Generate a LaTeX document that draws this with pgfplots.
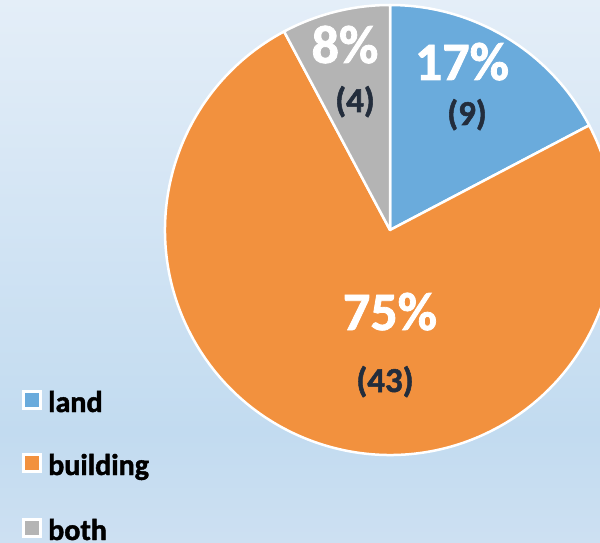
\documentclass[border=0pt]{standalone}
\usepackage{pgfplots}
\pgfplotsset{compat=1.18}
\usepackage{fontspec}
\setmainfont{Carlito}[BoldFeatures={FakeBold=1.5}]

\definecolor{cland}{RGB}{106,171,220}
\definecolor{cbuild}{RGB}{242,145,62}
\definecolor{cboth}{RGB}{180,180,180}
\definecolor{cnum}{RGB}{35,45,60}
\definecolor{bgtop}{RGB}{228,238,248}
\definecolor{bgmid}{RGB}{194,219,240}
\definecolor{bgbot}{RGB}{205,224,242}

% slice sizes in percent, clockwise from 12 o'clock
\def\slices{17.3/cland, 74.9/cbuild, 7.8/cboth}

\begin{document}
\begin{tikzpicture}
\useasboundingbox (0pt,0pt) rectangle (600pt,542pt);
\clip (0pt,0pt) rectangle (600pt,542pt);

\begin{scope}[x=1pt,y=1pt]
\shade[top color=bgtop,bottom color=bgmid] (0,110) rectangle (600,542);
\shade[top color=bgmid,bottom color=bgbot] (0,-1) rectangle (600,110.5);
\end{scope}

\begin{axis}[
  hide axis, scale only axis,
  x=225pt, y=225pt,
  xmin=-1, xmax=1, ymin=-1, ymax=1,
  clip=false, anchor=center, at={(390pt,312pt)}
]
\pgfplotsextra{
  \xdef\cum{90}
  \foreach \v/\col in \slices {
    \pgfmathsetmacro\endang{\cum-3.6*\v}
    \filldraw[fill=\col, draw=white, line width=2.5pt, line join=round]
      (axis cs:0,0) -- ++(\cum:225pt)
      arc[start angle=\cum, end angle=\endang, radius=225pt] -- cycle;
    \xdef\cum{\endang}
  }
}
\end{axis}

\begin{scope}[x=1pt,y=1pt]
% slice labels
\node[anchor=base, inner sep=0, text=white, font=\fontsize{54}{54}\selectfont\bfseries] at (462,462) {17\%};
\node[anchor=base, inner sep=0, text=cnum, font=\fontsize{35}{35}\selectfont\bfseries] at (467,417) {(9)};
\node[anchor=base, inner sep=0, text=white, font=\fontsize{54}{54}\selectfont\bfseries] at (345,479) {8\%};
\node[anchor=base, inner sep=0, text=cnum, font=\fontsize{35}{35}\selectfont\bfseries] at (355,430) {(4)};
\node[anchor=base, inner sep=0, text=white, font=\fontsize{54}{54}\selectfont\bfseries] at (390,212) {75\%};
\node[anchor=base, inner sep=0, text=cnum, font=\fontsize{35}{35}\selectfont\bfseries] at (385,150) {(43)};

% legend
\foreach \yy/\col/\txt in {130/cland/land, 67/cbuild/building, 2/cboth/both} {
  \filldraw[fill=\col, draw=white, line width=3pt] (23,\yy+4) rectangle (40,\yy+21);
  \node[anchor=base west, inner sep=0, font=\fontsize{30}{30}\selectfont\bfseries] at (48,\yy) {\txt};
}
\end{scope}
\end{tikzpicture}
\end{document}
